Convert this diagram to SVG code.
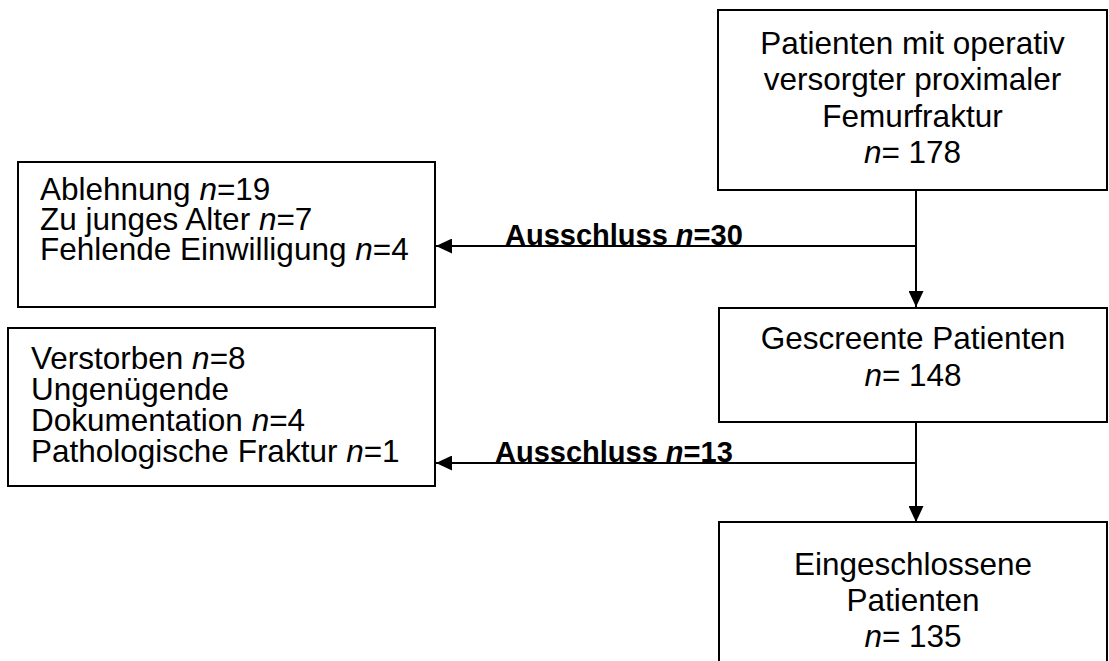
<svg xmlns="http://www.w3.org/2000/svg" width="1109" height="661" viewBox="0 0 1109 661">
<style>
.box{fill:#fff;stroke:#000;stroke-width:2}
.t{font-family:"Liberation Sans",Arial,sans-serif;font-size:31.5px;fill:#000}
.c{text-anchor:middle}
.i{font-style:italic}
.lbl{font-family:"Liberation Sans",Arial,sans-serif;font-size:29px;font-weight:bold;fill:#000}
.ln{stroke:#000;stroke-width:2;fill:none}
</style>
<defs>
<marker id="ah" markerWidth="16" markerHeight="15" refX="16" refY="7.5" orient="auto" markerUnits="userSpaceOnUse">
<path d="M0,0 L16,7.5 L0,15 Z" fill="#000"/>
</marker>
</defs>
<rect width="1109" height="661" fill="#fff"/>
<g id="connectors">
<line class="ln" x1="916" y1="190" x2="916" y2="307" marker-end="url(#ah)"/>
<line class="ln" x1="916" y1="246" x2="436" y2="246" marker-end="url(#ah)"/>
<line class="ln" x1="916" y1="422" x2="916" y2="522" marker-end="url(#ah)"/>
<line class="ln" x1="916" y1="463" x2="436" y2="463" marker-end="url(#ah)"/>
<text class="lbl" x="505" y="245">Ausschluss <tspan class="i">n</tspan>=30</text>
<text class="lbl" x="495" y="462">Ausschluss <tspan class="i">n</tspan>=13</text>
</g>
<g id="n1">
<rect class="box" x="718" y="10" width="389" height="180"/>
<text class="t c"><tspan x="912.5" y="53.5">Patienten mit operativ</tspan><tspan x="912.5" y="90">versorgter proximaler</tspan><tspan x="912.5" y="126.5">Femurfraktur</tspan><tspan x="912.5" y="163"><tspan class="i">n</tspan>= 178</tspan></text>
</g>
<g id="ex1">
<rect class="box" x="18" y="162" width="417" height="145"/>
<text class="t"><tspan x="40" y="200">Ablehnung <tspan class="i">n</tspan>=19</tspan><tspan x="40" y="230">Zu junges Alter <tspan class="i">n</tspan>=7</tspan><tspan x="40" y="260">Fehlende Einwilligung <tspan class="i">n</tspan>=4</tspan></text>
</g>
<g id="n2">
<rect class="box" x="719" y="308" width="388" height="114"/>
<text class="t c"><tspan x="913" y="349">Gescreente Patienten</tspan><tspan x="913" y="386"><tspan class="i">n</tspan>= 148</tspan></text>
</g>
<g id="ex2">
<rect class="box" x="8" y="328" width="427" height="158"/>
<text class="t"><tspan x="31" y="369">Verstorben <tspan class="i">n</tspan>=8</tspan><tspan x="31" y="400">Ungenügende</tspan><tspan x="31" y="431">Dokumentation <tspan class="i">n</tspan>=4</tspan><tspan x="31" y="462">Pathologische Fraktur <tspan class="i">n</tspan>=1</tspan></text>
</g>
<g id="n3">
<rect class="box" x="719" y="522" width="388" height="200"/>
<text class="t c"><tspan x="913" y="575">Eingeschlossene</tspan><tspan x="913" y="611">Patienten</tspan><tspan x="913" y="647"><tspan class="i">n</tspan>= 135</tspan></text>
</g>
</svg>
